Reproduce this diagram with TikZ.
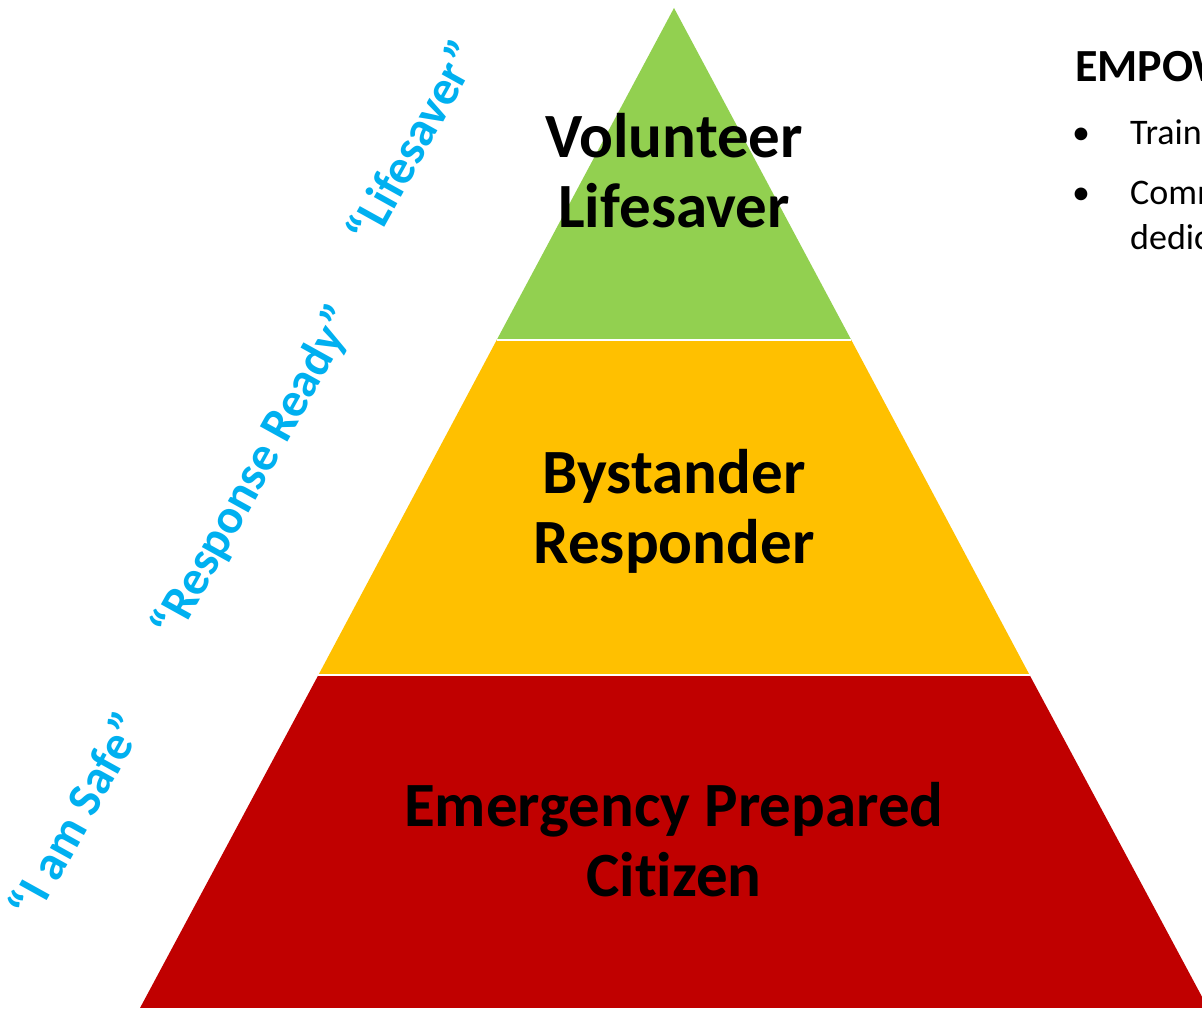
\documentclass[tikz,border=0pt]{standalone}
\usepackage{fontspec}
\setmainfont{Carlito}[Ligatures=NoCommon]
\definecolor{pgreen}{HTML}{92D050}
\definecolor{pyellow}{HTML}{FFC000}
\definecolor{pred}{HTML}{C00000}
\definecolor{pblue}{HTML}{00B0F0}
\begin{document}
\begin{tikzpicture}[x=1pt,y=1pt,
  layertext/.style={font=\bfseries\fontsize{63}{70}\selectfont, align=center, inner sep=0pt, text=black},
  motto/.style={font=\bfseries\fontsize{48.5}{56}\selectfont, text=pblue, rotate=61, inner sep=0pt},
  headtext/.style={font=\bfseries\fontsize{46}{56}\selectfont, anchor=base west, inner sep=0pt},
  bullettext/.style={font=\fontsize{36}{45}\selectfont, anchor=base west, inner sep=0pt}]
\useasboundingbox (0,0) rectangle (1202,1009);
\fill[white] (0,0) rectangle (1202,1009);
\clip (0,0) rectangle (1202,1009);
% pyramid corners
\coordinate (apex) at (674,1001);
\coordinate (gl) at (496.7,669);
\coordinate (gr) at (851.3,669);
\coordinate (yl) at (318.4,334);
\coordinate (yr) at (1029.6,334);
\coordinate (bl) at (140,1);
\coordinate (br) at (1208,1);
\fill[pgreen] (apex) -- (gl) -- (gr) -- cycle;
\fill[pyellow] (gl) -- (yl) -- (yr) -- (gr) -- cycle;
\fill[pred] (yl) -- (bl) -- (br) -- (yr) -- cycle;
\draw[white, line width=2.5pt] (gl) -- (gr);
\draw[white, line width=2.5pt] (yl) -- (yr);
% layer labels
\node[layertext] (vol) at (674,838) {Volunteer\\Lifesaver};
\node[layertext] (bys) at (674,498) {Bystander\\Responder};
\node[layertext] (emc) at (674,169) {Emergency Prepared\\Citizen};
% mottos
\node[motto] (m1) at (412,867) {“Lifesaver”};
\node[motto] (m2) at (255,537) {“Response Ready”};
\node[motto] (m3) at (75,194) {“I am Safe”};
% right text
\node[headtext] (head) at (1075,927) {EMPOW};
\node[bullettext] (b1) at (1072,864) {•};
\node[bullettext] (t1) at (1130,864) {Train};
\node[bullettext] (b2) at (1072,804) {•};
\node[bullettext] (t2) at (1130,804) {Comm};
\node[bullettext] (t3) at (1130,759) {dedic};
\end{tikzpicture}
\end{document}
